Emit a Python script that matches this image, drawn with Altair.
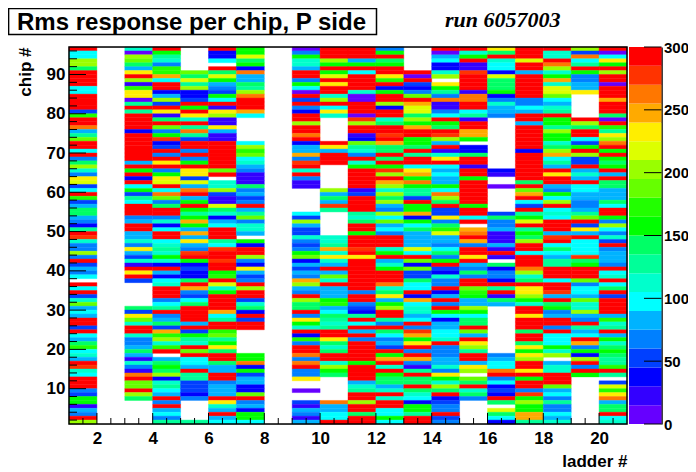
import altair as alt
import pandas as pd

# Colour levels of the 20-band palette, lowest to highest
level_codes = "abcdefghijklmnopqrst"
level_colors = ["#6600ff", "#3300ff", "#0000ff", "#0040ff", "#0080ff", "#00b3ff", "#00ffff",
                "#00ffcc", "#00ff99", "#00ff66", "#00ff00", "#22ff00", "#66ff00", "#99ff00",
                "#ddff00", "#ffee00", "#ffaa00", "#ff7700", "#ff3300", "#ff0000"]
level_step = 15
W = "." * 6

# Per ladder: band code of chips 96..49, then 48..1 ('.' = no data)
L = {
 1: ("tggnnjttttggttttdlttrfimttgtejnhepodgtldfjjfecit", "sheenetdfeg.tgtdhmfgfttdtgfjlghftshgtttedkkbfetn"),
 2: ("." * 48, "." * 48),
 3: ("hanmjfptnblppaiti" + "tttt" + "c" + "ttttttt" + "ftktctgkdig" + "ttt" + "ef" + "tt" + "f",
     "fhepfdhbtptd" + W + "jdpmhttheefjfbhebrtmmtnj" + W),
 4: ("tkihellqgttcfndtpbjtmeksc" + "dtetptekpotgrmejttehcgt", "tghihkhctfcghttteg" + "itefjdqlnhlt.fjkjnchigftetfgei"),
 5: (W + "mjoinccdtktphtiridttetektppdofrtfktkikqkfq", "fpfestkcdccjtqedgjttttftdkihtmtggftiidddce" + "....." + "i"),
 6: ("tccg.tjokfedkgtbpnbbpfbb" + "ttttttt" + "mt.hhndbbojhcfgtt", "tigsttsttkltohkttttqgittlmikpjttjfftteffftphftfg"),
 7: ("kkojkcrffjinrtttqg" + W + "gnlmghfebbbjefdetfimehhf", ".kcttnecpfdetnttdhjctdtt" + W + "kkrckdffccmtefckkg"),
 8: ("." * 48, "." * 48),
 9: ("aekhhfttekgatdtecttnttrtcffqesthtebb" + W + "gdnfdd", "hedekmcfdfeqnfetnjjtepkhtclettrertee" + "p..a..dbfebf"),
 10: ("tttnktkotptthntgph" + W + "tpfttt" + W + "nfjfsi" + W, "hhiqhphftfmhtfffklfgjihittpjhjtthnkj" + W + "rffggt"),
 11: ("tttfktgtttthaatttasnttbcmihethktttttbdttttihjttk", "tttstp" + "t" * 8 + "ettedcitgtfte" + "t" * 5 + "ktttt" + "fhittnttjtt"),
 12: ("ektjkttpltckttnctthjttstqjjtjtksntqnhnjnfengmfge", "ttthktfhktttrhjpfkntti" + "etjgefdtkqthtkjjfhthttggkg"),
 13: (W + "tatdcemtqoojnkqttkkjtittgpqkrkiidtkkqckgjf", "fffogtmcmddjggtcqghhfgtesqkptetqebitjjtjhgckkitt"),
 14: ("tafgcchn.pkierbbegtkjtsnftbhptgfgffkgrnjtddpejlo", "ffegjektdcheetcftetkgcffgghteeeffhepkhnjtcdeetde"),
 15: ("thktbbstttt" + "brrttgibttqqk.ccjttbttk" + "tttttt" + "kttgt.qr", "tqettptfejettmlkffnkgjjtmftpnittfpn.mjthje" + W),
 16: ("pjthggcojjjkcehffe" + "." * 13 + "cb..a" + W + "djeefb", "bbfbtb.jceectitbjf" + "." * 12 + "efggrtegcdctj.ojgc"),
 17: ("tttottf" + "tttttt" + "eegfttf" + "tttttt" + "c" + "ttttttt" + "jtmqtgdtikotik", "jnttgtttrnhjtppnkhttptttjttjpkpnttptkttesknkkqqi"),
 18: ("thhtrnhkqhoomgfhitkkinkkhjnqgiftpttfekgntghgtttf", "stgjgfiitttgttsftjkefttetgggkhn.fhhtttmfgeieegfh"),
 19: ("ndrgitkeeffp" + W + "tnjttgdktnddtfhftggffeefimtdpf", "tggggsjktttmeggfmhhnfetifgtqekcntetk" + "." * 12),
 20: ("tagpktnttatttqtttjatlipnrtktkjktftjjfffjgttkeng" + "e", "hdtefffetghtgjtdttttflhitfkhjkjiilti.dolprfjjtgh"),
}
bad = {k: (len(a), len(b)) for k, (a, b) in L.items() if len(a) != 48 or len(b) != 48}
assert not bad, str(bad)

chip_ticks_major = [10, 20, 30, 40, 50, 60, 70, 80, 90]
chip_ticks_minor = [c for c in range(2, 97, 2) if c % 10]
ladder_ticks_major = list(range(2, 21, 2))
ladder_ticks_minor = [1.5 + 0.5 * i for i in range(39) if (1.5 + 0.5 * i) % 2]
bar_ticks = [0, 50, 100, 150, 200, 250, 300]

rows = []
for ladder, (top, bottom) in L.items():
    for i, code in enumerate(top + bottom):
        if code != ".":
            chip = 96 - i
            rows.append({"ladder": ladder, "ladder2": ladder + 1, "chip": chip, "chip2": chip + 1,
                         "value": (level_codes.index(code) + 0.5) * level_step})
cells = pd.DataFrame(rows)
bands = pd.DataFrame({"lo": [i * level_step for i in range(20)],
                      "hi": [(i + 1) * level_step for i in range(20)],
                      "value": [(i + 0.5) * level_step for i in range(20)]})

TOTAL_W, TOTAL_H = 680, 464
LEFT, TOP = 61, 39
PW, PH = 558, 377


def px(x):
    return x - 69


def py(y):
    return y - 47


FONT = "Liberation Sans"
color_scale = alt.Scale(type="threshold", domain=[(i + 1) * level_step for i in range(19)], range=level_colors)
x_scale = alt.Scale(domain=[1, 21], nice=False, zero=False)
y_scale = alt.Scale(domain=[1, 97], nice=False, zero=False)

x_enc = alt.X("ladder:Q", scale=x_scale, axis=alt.Axis(
    values=ladder_ticks_major, format="d", grid=False, ticks=False, domain=False,
    labelFont=FONT, labelFontWeight="bold", labelFontSize=17, labelColor="black", labelPadding=6,
    labelFlush=False, labelOverlap=False,
    title="ladder #", titleFont=FONT, titleFontWeight="bold", titleFontSize=17, titleColor="black",
    titleAnchor="end", titleAlign="right", titlePadding=7))
y_enc = alt.Y("chip:Q", scale=y_scale, axis=alt.Axis(
    values=chip_ticks_major, format="d", grid=False, ticks=False, domain=False,
    labelFont=FONT, labelFontWeight="bold", labelFontSize=17, labelColor="black", labelPadding=4,
    labelFlush=False, labelOverlap=False,
    title="chip #", titleFont=FONT, titleFontWeight="bold", titleFontSize=17, titleColor="black",
    titleAnchor="end", titleAlign="right", titlePadding=12))

heat = alt.Chart(cells).mark_rect(strokeWidth=0.4).encode(
    x=x_enc, x2="ladder2:Q", y=y_enc, y2="chip2:Q",
    color=alt.Color("value:Q", scale=color_scale, legend=None),
    stroke=alt.Color("value:Q", scale=color_scale, legend=None))


def x_rules(vals, length):
    return alt.Chart(pd.DataFrame({"t": vals})).mark_rule(color="black", strokeWidth=1).encode(
        x=alt.X("t:Q", scale=x_scale), y=alt.value(PH), y2=alt.value(PH - length))


def y_rules(vals, length):
    return alt.Chart(pd.DataFrame({"t": vals})).mark_rule(color="black", strokeWidth=1).encode(
        y=alt.Y("t:Q", scale=y_scale), x=alt.value(0), x2=alt.value(length))


frame = alt.Chart(pd.DataFrame({"a": [1], "b": [21], "c": [1], "d": [97]})).mark_rect(
    filled=False, stroke="black", strokeWidth=1.5).encode(
    x=alt.X("a:Q", scale=x_scale), x2="b:Q", y=alt.Y("c:Q", scale=y_scale), y2="d:Q")

box = alt.Chart(pd.DataFrame({"k": [0]})).mark_rect(filled=False, stroke="black", strokeWidth=1.5).encode(
    x=alt.value(px(8.6)), x2=alt.value(px(376.5)), y=alt.value(py(8.6)), y2=alt.value(py(34.5)))
title = alt.Chart(pd.DataFrame({"s": ["Rms response per chip, P side"]})).mark_text(
    font=FONT, fontWeight="bold", fontSize=24, align="left", baseline="middle", color="black").encode(
    x=alt.value(px(17)), y=alt.value(py(22.5)), text="s:N")
run = alt.Chart(pd.DataFrame({"s": ["run 6057003"]})).mark_text(
    font="Liberation Serif", fontWeight="bold", fontStyle="italic", fontSize=22, align="left",
    baseline="middle", color="black").encode(x=alt.value(px(445)), y=alt.value(py(20)), text="s:N")

left = alt.layer(heat, x_rules(ladder_ticks_major, 11), x_rules(ladder_ticks_minor, 6),
                 y_rules(chip_ticks_major, 17), y_rules(chip_ticks_minor, 8), frame, box, title, run)

bar_scale = alt.Scale(domain=[0, 300], nice=False, zero=False)
bar = alt.Chart(bands).mark_rect().encode(
    x=alt.value(px(629)), x2=alt.value(px(661.5)),
    y=alt.Y("lo:Q", scale=bar_scale, axis=alt.Axis(
        orient="right", offset=661.5 - 627, values=bar_ticks, grid=False, ticks=False, title=None,
        domainColor="black", domainWidth=1.5,
        labelFont=FONT, labelFontWeight="bold", labelFontSize=15, labelColor="black", labelPadding=2,
        labelFlush=False, labelOverlap=False)),
    y2="hi:Q",
    color=alt.Color("value:Q", scale=color_scale, legend=None))
bar_ticks_marks = alt.Chart(pd.DataFrame({"t": bar_ticks})).mark_rule(color="black", strokeWidth=1).encode(
    y=alt.Y("t:Q", scale=bar_scale), x=alt.value(px(644)), x2=alt.value(px(661.5)))
right = alt.layer(bar, bar_ticks_marks)

chart = alt.layer(left, right).resolve_scale(y="independent").properties(
    width=PW, height=PH,
    autosize=alt.AutoSizeParams(type="none"),
    padding={"left": LEFT, "top": TOP, "right": TOTAL_W - LEFT - PW, "bottom": TOTAL_H - TOP - PH},
).configure_view(stroke=None).configure(background="white")

chart.save("out.html", embed_options={"renderer": "svg", "actions": False})
